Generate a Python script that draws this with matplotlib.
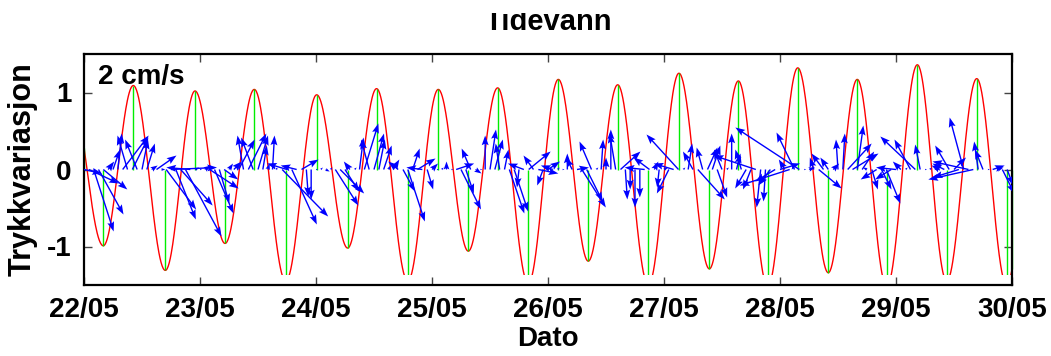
import matplotlib
matplotlib.use('Agg')
import matplotlib.pyplot as plt
import numpy as np
from matplotlib.patches import Rectangle

# tidal high/low waters (days after 22/05 00:00, pressure variation)
ext_t = [-0.12, 0.166, 0.425, 0.701, 0.957, 1.216, 1.468, 1.739, 2.006, 2.273, 2.522,
         2.791, 3.054, 3.313, 3.566, 3.830, 4.089, 4.347, 4.601, 4.865, 5.129, 5.391,
         5.641, 5.894, 6.153, 6.416, 6.666, 6.920, 7.184, 7.437, 7.696, 7.954, 8.21]
ext_h = [1.05, -0.99, 1.09, -1.31, 1.02, -0.96, 1.04, -1.45, 0.97, -1.02, 1.05,
         -1.45, 1.04, -1.06, 1.06, -1.48, 1.17, -1.19, 1.10, -1.50, 1.25, -1.29,
         1.15, -1.52, 1.32, -1.34, 1.17, -1.52, 1.36, -1.45, 1.18, -1.50, 1.15]
sensor_floor = -1.37  # lowest value the record shows

# hourly current vectors (cm/s), east / north
cur_u = [0.9, 1.5, 1.0, 1.25, 1.2, 0.3, 0.35, 0.2, 1.3, -0.5, 0.8, -0.6,
         0.3, 0.4, 0.3, 1.0, 0.2, 1.5, 2.3, 1.0, 1.6, 1.8, -1.2, 0.2,
         0.1, 0.3, 1.45, 0.95, 0.5, 0.7, 0.2, 0.4, 0.8, -0.3, 0.9, -0.6,
         0.5, 0.2, 0.1, 0.1, -0.1, 2.3, -1.0, 1.25, -0.8, 0.85, 0.1, 0.0,
         0.1, 0.1, 0.2, 0.1, 1.15, 1.2, 0.7, -0.3, 0.1, 0.2, 0.7, -0.4,
         0.5, 0.3, 0.4, 0.1, 0.3, -0.5, 0.6, 0.85, 0.35, 0.9, -0.8, 0.3,
         0.3, 0.1, 0.1, 0.0, 0.1, 0.9, 1.0, 0.4, -0.45, 0.3, 0.1, 0.0,
         0.3, 0.4, -0.2, 0.2, 0.75, 0.7, -0.1, -0.8, 1.1, -0.5, 1.0, -0.3,
         0.6, -0.6, 0.1, 0.1, 0.0, -0.3, 0.6, 1.2, 0.8, -0.6, 0.1, 0.1,
         0.0, 0.0, -0.3, 1.0, 0.1, 0.0, 0.0, 0.0, -1.0, -0.8, 0.2, -0.1,
         0.2, -0.6, -1.0, -1.6, 0.1, 0.2, -0.5, 1.35, -0.3, 0.5, 0.4, 0.5,
         -0.4, 0.1, 0.0, 0.2, -0.3, -0.55, -0.4, -2.1, -0.2, -0.1, -0.6, -1.0,
         1.0, -0.3, -2.5, -0.9, -3.2, 0.1, 0.3, -0.2, 1.15, -0.6, -0.4, 0.3,
         -0.1, 0.1, 1.2, 1.3, 0.3, 0.6, -0.2, 0.3, -0.8, 0.5, 0.7, -0.8,
         -1.0, -0.4, 0.1, -0.8, -1.75, -0.25, 0.1, 0.1, 0.1, -0.4, -0.6, -0.7,
         0.6, -1.3, -0.7, -1.8, -2.25, -0.2, -0.4, 0.1, 0.6, 0.3, 0.6, 0.3]
cur_v = [-0.2, -0.7, -3.1, -2.25, -1.0, 0.4, 1.0, 1.8, 1.7, 1.7, 1.6, 1.5,
         1.5, 1.3, 0.2, 0.7, 0.0, -2.0, 0.1, -2.5, -1.8, -3.35, 0.1, 0.1,
         0.0, 0.2, -0.95, -2.2, -1.7, -0.5, 0.3, 0.4, 1.5, 1.7, 1.8, 1.6,
         1.7, 1.2, 0.3, 1.7, 0.1, -2.35, 0.3, -2.75, 0.2, 0.5, -1.35, -1.5,
         0.0, 0.1, -0.1, 0.1, -1.8, -1.2, -1.1, 0.4, 0.1, 1.6, 2.3, 1.5,
         1.8, 1.5, 1.2, 0.2, 0.5, 0.4, -1.1, -2.6, 1.05, 0.55, 0.1, -1.0,
         0.3, 0.0, 0.1, 0.4, 0.0, 0.3, -2.0, -1.2, 1.05, -0.2, 0.0, 1.7,
         2.0, 1.5, 1.3, 1.0, -2.2, -2.1, -0.9, 0.3, 0.9, 0.7, -0.2, -0.8,
         0.4, 0.2, 0.1, 0.0, 0.8, 0.6, 0.1, -1.9, -1.6, 1.4, 0.1, 1.5,
         0.6, 2.0, 1.8, 0.9, -1.5, -1.0, -1.9, -1.4, 0.1, 0.6, 0.4, -0.9,
         0.1, -1.2, 0.3, 1.75, 0.1, 1.3, 0.9, -1.5, 1.1, 1.1, 1.2, -1.4,
         1.0, 0.1, 1.8, 0.8, 1.0, -0.95, -1.0, 0.7, -1.9, -1.6, -0.8, -0.6,
         0.3, 0.5, -0.8, 1.85, 2.1, 0.0, 0.1, 0.6, -0.95, 0.8, 0.6, 0.3,
         1.5, 1.8, 1.3, 0.8, 2.2, 0.9, 0.1, -1.0, -0.5, -1.0, -1.7, -0.5,
         0.1, 0.4, 0.1, 1.5, 1.65, 1.25, 0.0, 0.1, 0.0, 0.2, 0.3, 1.2,
         0.6, -0.4, 2.6, 0.4, -0.5, 1.4, 1.0, 0.0, 0.2, 0.1, -1.2, -0.8]

day_labels = ['22/05', '23/05', '24/05', '25/05', '26/05', '27/05', '28/05', '29/05', '30/05']
n_days = 8

plt.rcParams['font.family'] = ['Liberation Sans', 'DejaVu Sans']
plt.rcParams['font.weight'] = 'bold'

fig = plt.figure(figsize=(10.51, 3.56), dpi=100)
ax = fig.add_axes([84 / 1051, 71 / 356, 928 / 1051, 231 / 356])

# smooth half-cosine between successive high and low waters
tt, hh = [], []
for i in range(len(ext_t) - 1):
    t0, t1, h0, h1 = ext_t[i], ext_t[i + 1], ext_h[i], ext_h[i + 1]
    s = np.linspace(0, 1, 60, endpoint=False)
    tt.append(t0 + s * (t1 - t0))
    hh.append((h0 + h1) / 2 + (h0 - h1) / 2 * np.cos(np.pi * s))
tt = np.concatenate(tt)
hh = np.concatenate(hh)

floor_clip = Rectangle((-1, sensor_floor), n_days + 2, 5, transform=ax.transData)

line, = ax.plot(tt, hh, color='red', lw=1.0, zorder=2)
line.set_clip_path(floor_clip)

# stems at each high/low water plus the record ends
ext_t = np.array(ext_t)
ext_h = np.array(ext_h)
inside = (ext_t >= 0) & (ext_t <= n_days)
stem_t = np.concatenate([[0], ext_t[inside], [n_days]])
stem_h = np.concatenate([[np.interp(0, tt, hh)], ext_h[inside], [np.interp(n_days, tt, hh)]])
stems = ax.vlines(stem_t, 0, stem_h, colors='#00ee00', lw=1.0, zorder=2.5)
stems.set_clip_path(floor_clip)

# current arrows, one per hour, from the zero line
hours = np.arange(len(cur_u)) / 24.0
ax.quiver(hours, np.zeros(len(hours)), cur_u, cur_v, color='blue', angles='uv',
          scale_units='inches', scale=5, width=0.0015, headwidth=5, headlength=7,
          headaxislength=6, zorder=3)

ax.set_xlim(0, n_days)
ax.set_ylim(-1.5, 1.5)
ax.set_xticks(range(n_days + 1))
ax.set_xticklabels(day_labels)
ax.set_yticks([-1, 0, 1])
ax.set_yticklabels(['-1', '0', '1'])
ax.tick_params(direction='in', length=6, width=1, color='#444444', top=True, right=True,
               labelsize=20, pad=9)
for sp in ax.spines.values():
    sp.set_linewidth(1.6)

ax.set_xlabel('Dato', fontsize=20, fontweight='bold', labelpad=2)
ax.set_ylabel('Trykkvariasjon', fontsize=22, fontweight='bold', labelpad=7)
ax.text(0.015, 0.955, '2 cm/s', transform=ax.transAxes, ha='left', va='top',
        fontsize=20, fontweight='bold')

fig.text(0.5214, 1 - 30 / 356, 'Tidevann', ha='center', va='baseline', fontsize=21,
         fontweight='bold')
# the top strip of the original export is blank, cutting the title
fig.add_artist(Rectangle((0, 1 - 13 / 356), 1, 13 / 356, transform=fig.transFigure,
                         facecolor='white', edgecolor='none', zorder=10))

fig.savefig('out.png', dpi=100)
